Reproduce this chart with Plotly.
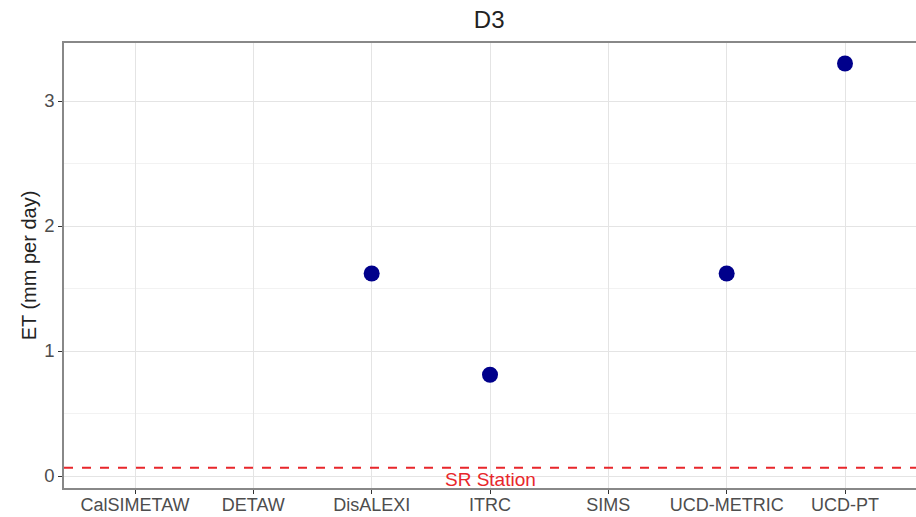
import plotly.graph_objects as go

# Model estimates of ET for station D3
models = ["CalSIMETAW", "DETAW", "DisALEXI", "ITRC", "SIMS", "UCD-METRIC", "UCD-PT"]
et_values = [None, None, 1.62, 0.81, None, 1.62, 3.3]

# Reference station value
station_name = "SR Station"
station_et = 0.066

FONT = "Liberation Sans, Arial, sans-serif"

fig = go.Figure()

fig.add_trace(go.Scatter(
    x=list(range(len(models))),
    y=et_values,
    mode="markers",
    marker=dict(color="#00008B", size=16),
    showlegend=False,
    hoverinfo="x+y",
))

fig.add_shape(
    type="line", xref="paper", x0=0, x1=1, yref="y", y0=station_et, y1=station_et,
    line=dict(color="#E8262B", width=2, dash="dash"),
)

fig.add_annotation(
    x=models.index("ITRC"), y=station_et, xref="x", yref="y",
    text=station_name, showarrow=False, yanchor="top", yshift=1,
    font=dict(family=FONT, size=19, color="#E8262B"),
)

fig.update_layout(
    width=916, height=517,
    margin=dict(l=64, r=0, t=43, b=29),
    paper_bgcolor="white", plot_bgcolor="white",
    title=dict(text="D3", x=0.534, xanchor="center", y=0.962, yanchor="middle",
               font=dict(family=FONT, size=24, color="#222222")),
    font=dict(family=FONT, color="#4d4d4d"),
    xaxis=dict(
        range=[-0.6, 6.6], automargin=False,
        tickmode="array", tickvals=list(range(len(models))), ticktext=models,
        ticks="outside", ticklen=4, tickcolor="#333333",
        ticklabelstandoff=-4,
        showgrid=True, gridcolor="#e4e4e4", gridwidth=1,
        showline=True, linecolor="#888888", linewidth=1.5, mirror=True,
        zeroline=False,
        tickfont=dict(family=FONT, size=18, color="#4d4d4d"),
    ),
    yaxis=dict(
        range=[-0.096, 3.464], automargin=False,
        tickvals=[0, 1, 2, 3],
        ticks="outside", ticklen=4, tickcolor="#333333",
        showgrid=True, gridcolor="#e4e4e4", gridwidth=1,
        minor=dict(tickvals=[0.5, 1.5, 2.5], showgrid=True, gridcolor="#f2f2f2", gridwidth=1, ticks=""),
        showline=True, linecolor="#888888", linewidth=1.5, mirror=False,
        zeroline=False,
        tickfont=dict(family=FONT, size=18.5, color="#4d4d4d"),
        title=dict(text="ET (mm per day)", standoff=2,
                   font=dict(family=FONT, size=20, color="#222222")),
    ),
)

fig.write_html("out.html")
